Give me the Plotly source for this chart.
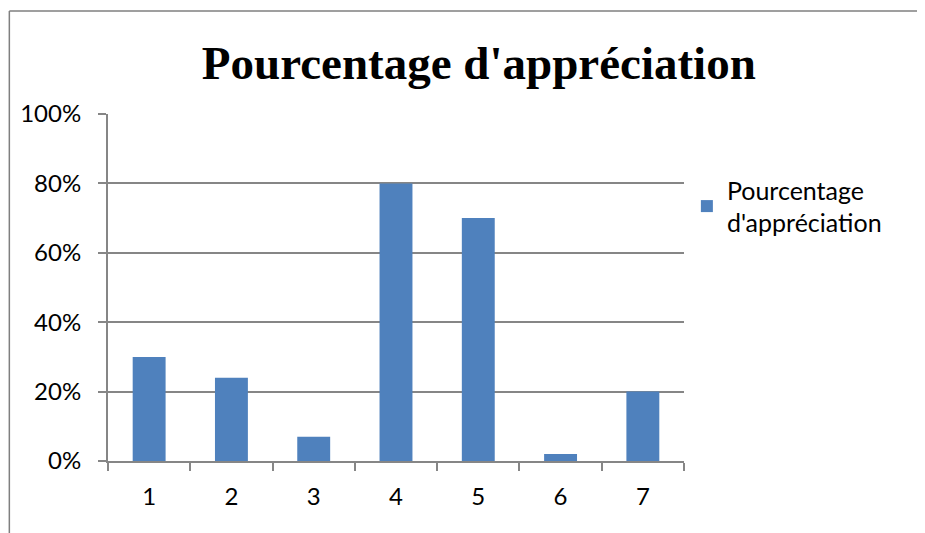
import plotly.graph_objects as go

categories = ["1", "2", "3", "4", "5", "6", "7"]
values = [0.30, 0.24, 0.07, 0.80, 0.70, 0.02, 0.20]
series_name = "Pourcentage<br>d'appréciation"
title_text = "Pourcentage d'appréciation"
y_ticks = [0, 0.2, 0.4, 0.6, 0.8, 1.0]
y_labels = ["0%", "20%", "40%", "60%", "80%", "100%"]

grid = "#868686"
font_fam = "Lato, 'Open Sans', sans-serif"

# page body has an 8px margin; compensate
OFF = 8
L, R, T, B = 106 - OFF, 925 - (684 - OFF), 114 - OFF, 533 - (461 - OFF)
PW, PH = 925 - L - R, 533 - T - B

fig = go.Figure()
fig.add_trace(go.Bar(x=categories, y=values, name=series_name,
                     marker=dict(color="#4F81BD", line=dict(width=0)),
                     showlegend=True))

fig.update_layout(
    width=925, height=533,
    margin=dict(l=L, r=R, t=T, b=B),
    paper_bgcolor="white", plot_bgcolor="white",
    bargap=0.6,
    title=dict(text="<b>" + title_text + "</b>", x=0.509, xanchor="center",
               y=0.866, yanchor="bottom",
               font=dict(family="'Liberation Serif', serif", size=47, color="black")),
    font=dict(family=font_fam, size=24, color="black"),
    showlegend=True,
    legend=dict(x=1.005, y=0.847, xanchor="left", yanchor="top",
                font=dict(family=font_fam, size=25, color="black"),
                itemwidth=30, tracegroupgap=0, bgcolor="rgba(0,0,0,0)"),
    xaxis=dict(type="category", tickson="boundaries", ticks="outside",
               ticklen=8, tickcolor=grid, tickwidth=2,
               showline=True, linecolor=grid, linewidth=2,
               showgrid=False, ticklabelstandoff=13,
               tickfont=dict(family=font_fam, size=24, color="black")),
    yaxis=dict(range=[0, 1], tickvals=y_ticks, ticktext=y_labels,
               ticks="outside", ticklen=8, tickcolor=grid, tickwidth=2,
               showline=True, linecolor=grid, linewidth=2,
               showgrid=True, gridcolor=grid, gridwidth=1.5,
               zeroline=False, ticklabelstandoff=12,
               tickfont=dict(family=font_fam, size=24, color="black")),
)

# outer chart frame (left and top edges visible)
fx = (7 - OFF - L) / PW
fy = 1 + (T - (11 - OFF)) / PH
fig.add_shape(type="line", xref="paper", yref="paper",
              x0=fx, x1=fx, y0=-0.4, y1=fy,
              line=dict(color="#7f7f7f", width=1.5))
fig.add_shape(type="line", xref="paper", yref="paper",
              x0=fx, x1=1.6, y0=fy, y1=fy,
              line=dict(color="#7f7f7f", width=1.5))

fig.write_html("out.html")
